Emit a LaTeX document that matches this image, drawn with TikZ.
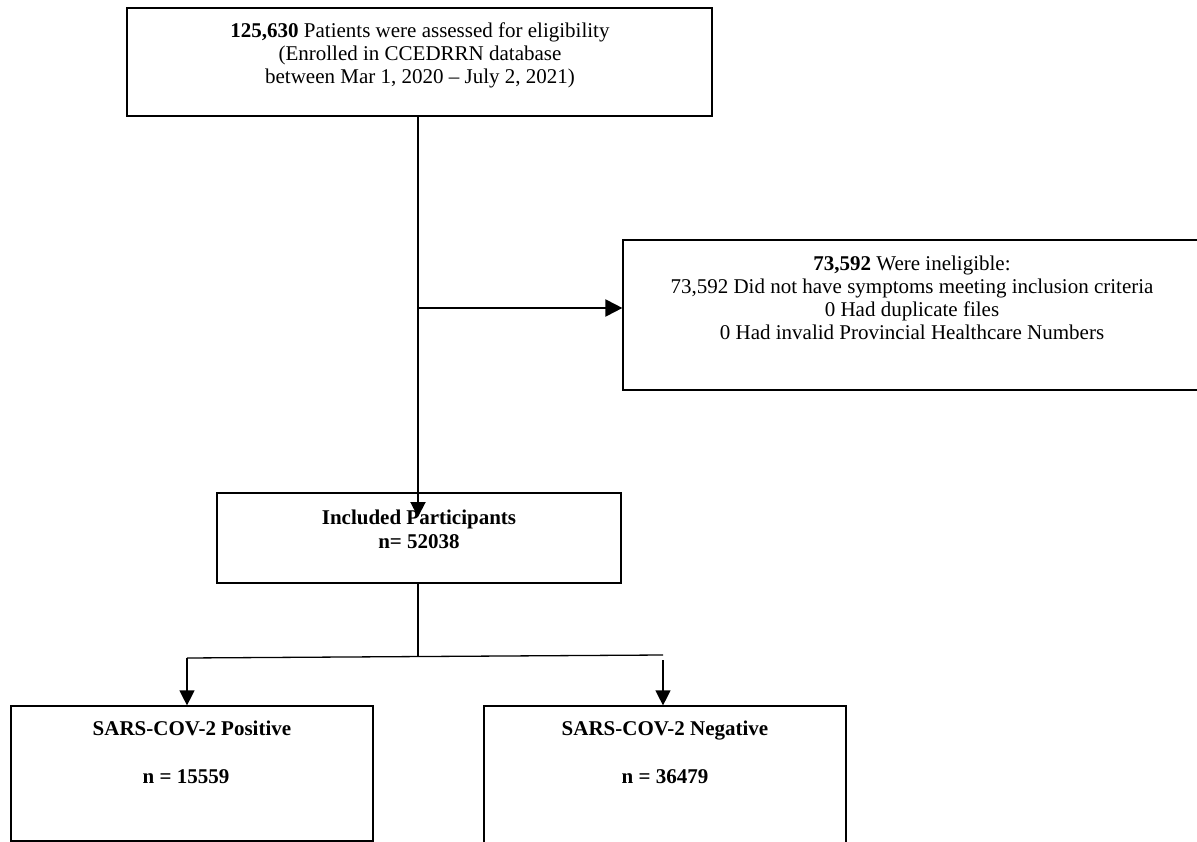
\documentclass[tikz,border=0pt]{standalone}
\usepackage{fontspec}
\setmainfont{Liberation Serif}
\usetikzlibrary{arrows.meta}
\tikzset{
  box/.style={draw=black, line width=1.2pt, inner sep=0pt, fill=none},
  txt/.style={anchor=base, inner sep=0pt, font=\fontsize{21}{24}\selectfont},
  mainline/.style={draw=black, line width=2pt},
  subline/.style={draw=black, line width=1.3pt},
  vtip/.style={-{Triangle[length=15pt,width=15pt]}},
  htip/.style={-{Triangle[length=17pt,width=17pt]}}
}
\begin{document}
\begin{tikzpicture}[x=1pt,y=-1pt]
\useasboundingbox[fill=white] (0,0) rectangle (1197,842);
\clip (0,0) rectangle (1197,842);
% boxes
\node[box, minimum width=585pt, minimum height=108pt] (top) at (419.5,62) {};
\node[box, minimum width=578pt, minimum height=150pt] (inel) at (912,315) {};
\node[box, minimum width=404pt, minimum height=90pt] (incl) at (419,538) {};
\node[box, minimum width=362pt, minimum height=135pt] (pos) at (192,773.5) {};
\node[box, minimum width=362pt, minimum height=150pt] (neg) at (665,781) {};
% texts
\node[txt] (t1) at (420,38) {\textbf{125,630} Patients were assessed for eligibility};
\node[txt] (t2) at (420,61) {(Enrolled in CCEDRRN database};
\node[txt] (t3) at (420,84) {between Mar 1, 2020 – July 2, 2021)};
\node[txt] (i1) at (912,271) {\textbf{73,592} Were ineligible:};
\node[txt] (i2) at (912,294) {73,592 Did not have symptoms meeting inclusion criteria};
\node[txt] (i3) at (912,317) {0 Had duplicate files};
\node[txt] (i4) at (912,340) {0 Had invalid Provincial Healthcare Numbers};
\node[txt] (m1) at (419,524) {\textbf{Included Participants}};
\node[txt] (m2) at (419,548) {\textbf{n= 52038}};
\node[txt] (p1) at (192,735) {\textbf{SARS-COV-2 Positive}};
\node[txt] (p2) at (186,783) {\textbf{n = 15559}};
\node[txt] (n1) at (665,735) {\textbf{SARS-COV-2 Negative}};
\node[txt] (n2) at (665,783) {\textbf{n = 36479}};
% connectors
\coordinate (tipA) at (418,517);
\coordinate (branch) at (418,308);
\coordinate (jn) at (418,656);
\coordinate (jl) at (187,658);
\coordinate (jr) at (663,655);
\coordinate (rs) at (663,660);
\draw[mainline, vtip] (top.south -| tipA) -- (tipA);
\draw[mainline, htip] (branch) -- (inel.west |- branch);
\draw[subline] (incl.south -| jn) -- (jn);
\draw[subline] (jl) -- (jr);
\draw[subline, vtip] (jl) -- (pos.north -| jl);
\draw[subline, vtip] (rs) -- (neg.north -| rs);
\end{tikzpicture}
\end{document}
